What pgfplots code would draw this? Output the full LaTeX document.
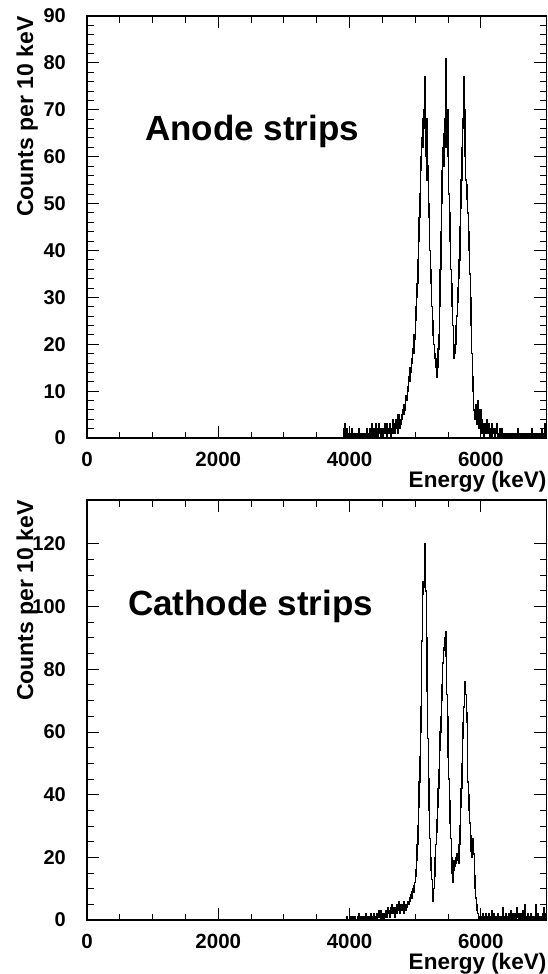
\documentclass[border=0pt]{standalone}
\usepackage{fontspec}
\setmainfont{Liberation Sans}
\usepackage{pgfplots}
\pgfplotsset{compat=1.18}
\begin{document}
\begin{tikzpicture}[x=1pt,y=1pt]
\useasboundingbox (0,0) rectangle (548,-974);
\pgfplotsset{
  every axis/.append style={
    scale only axis, width=459.5pt,
    xmin=0, xmax=7000, ymin=0,
    xtick={0,2000,4000,6000}, minor x tick num=3,
    tick pos=both, tick align=inside,
    major tick length=12pt, minor tick length=6.5pt,
    axis line style={line width=1.8pt},
    every tick/.style={black, line width=0.9pt},
    /pgf/number format/assume math mode=true,
    /pgf/number format/1000 sep={},
    tick label style={inner sep=0pt},
    xticklabel style={yshift=-14pt, font=\bfseries\fontsize{20.5}{20.5}\selectfont},
    yticklabel style={xshift=-21pt, font=\bfseries\fontsize{20}{20}\selectfont},
    xlabel={Energy (keV)},
    ylabel={Counts per 10 keV},
    xlabel style={at={(axis description cs:1,0)}, anchor=north east, yshift=-33pt, inner sep=0pt, font=\bfseries\fontsize{22.5}{22.5}\selectfont},
    ylabel style={at={(axis description cs:-0.1175,1)}, anchor=base east, inner sep=0pt, font=\bfseries\fontsize{23}{23}\selectfont},
  }
}
\begin{axis}[at={(87pt,-438pt)}, anchor=south west, height=422pt,
  ymax=90, ytick={0,10,...,90}, minor y tick num=4]
\addplot[const plot, black, line width=1.4pt] coordinates {
(0,0)
(3900,0)(3910,2)(3920,0)(3930,3)(3940,1)(3950,0)(3960,2)(3970,0)(3980,1)(3990,0)
(4000,1)(4010,0)(4020,0)(4030,2)(4040,1)(4050,0)(4060,1)(4070,0)(4080,0)(4090,1)
(4100,0)(4110,1)(4120,1)(4130,0)(4140,2)(4150,0)(4160,1)(4170,1)(4180,0)(4190,0)
(4200,1)(4210,0)(4220,1)(4230,0)(4240,1)(4250,0)(4260,2)(4270,1)(4280,0)(4290,1)
(4300,0)(4310,2)(4320,1)(4330,0)(4340,3)(4350,1)(4360,0)(4370,2)(4380,1)(4390,0)
(4400,3)(4410,1)(4420,2)(4430,0)(4440,1)(4450,3)(4460,1)(4470,0)(4480,2)(4490,1)
(4500,2)(4510,0)(4520,1)(4530,3)(4540,1)(4550,2)(4560,0)(4570,3)(4580,1)(4590,2)
(4600,1)(4610,3)(4620,2)(4630,0)(4640,2)(4650,4)(4660,1)(4670,3)(4680,2)(4690,1)
(4700,4)(4710,2)(4720,3)(4730,1)(4740,5)(4750,3)(4760,2)(4770,4)(4780,3)(4790,5)
(4800,4)(4810,6)(4820,5)(4830,7)(4840,6)(4850,8)(4860,9)(4870,8)(4880,10)(4890,11)
(4900,13)(4910,12)(4920,15)(4930,14)(4940,17)(4950,16)(4960,19)(4970,18)(4980,22)(4990,21)
(5000,25)(5010,28)(5020,30)(5030,33)(5040,38)(5050,42)(5060,47)(5070,52)(5080,57)(5090,60)
(5100,64)(5110,68)(5120,62)(5130,70)(5140,66)(5150,77)(5160,60)(5170,68)(5180,55)(5190,58)
(5200,50)(5210,47)(5220,40)(5230,36)(5240,33)(5250,28)(5260,25)(5270,22)(5280,20)(5290,17)
(5300,18)(5310,15)(5320,13)(5330,17)(5340,15)(5350,19)(5360,22)(5370,28)(5380,36)(5390,44)
(5400,50)(5410,57)(5420,62)(5430,65)(5440,58)(5450,68)(5460,81)(5470,62)(5480,66)(5490,70)
(5500,60)(5510,52)(5520,48)(5530,42)(5540,36)(5550,33)(5560,28)(5570,24)(5580,20)(5590,17)
(5600,18)(5610,20)(5620,24)(5630,26)(5640,29)(5650,32)(5660,34)(5670,38)(5680,45)(5690,49)
(5700,55)(5710,62)(5720,68)(5730,66)(5740,77)(5750,70)(5760,60)(5770,55)(5780,54)(5790,51)
(5800,48)(5810,44)(5820,40)(5830,35)(5840,30)(5850,24)(5860,18)(5870,13)(5880,10)(5890,6)
(5900,6)(5910,4)(5920,7)(5930,3)(5940,5)(5950,8)(5960,2)(5970,4)(5980,3)(5990,6)
(6000,2)(6010,4)(6020,1)(6030,3)(6040,2)(6050,0)(6060,3)(6070,1)(6080,2)(6090,4)
(6100,1)(6110,2)(6120,3)(6130,0)(6140,1)(6150,2)(6160,0)(6170,3)(6180,1)(6190,2)
(6200,1)(6210,0)(6220,2)(6230,1)(6240,3)(6250,0)(6260,1)(6270,1)(6280,0)(6290,2)
(6300,1)(6310,2)(6320,0)(6330,1)(6340,0)(6350,1)(6360,1)(6370,0)(6380,1)(6390,0)
(6400,0)(6410,1)(6420,0)(6430,1)(6440,0)(6450,0)(6460,1)(6470,0)(6480,0)(6490,1)
(6500,0)(6510,1)(6520,1)(6530,0)(6540,1)(6550,0)(6560,2)(6570,0)(6580,1)(6590,0)
(6600,1)(6610,0)(6620,1)(6630,0)(6640,0)(6650,1)(6660,0)(6670,1)(6680,0)(6690,0)
(6700,1)(6710,0)(6720,0)(6730,1)(6740,0)(6750,1)(6760,0)(6770,0)(6780,2)(6790,0)
(6800,1)(6810,0)(6820,1)(6830,0)(6840,1)(6850,0)(6860,0)(6870,1)(6880,0)(6890,1)
(6900,0)(6910,1)(6920,2)(6930,0)(6940,1)(6950,0)(6960,1)(6970,3)(6980,0)(6990,1)
(7000,1)
};
\node[anchor=base west, inner sep=0pt, font=\bfseries\fontsize{35}{35}\selectfont] at (rel axis cs:0.126,0.706) {Anode strips};
\end{axis}
\begin{axis}[at={(87pt,-920pt)}, anchor=south west, height=420pt,
  ymax=134, ytick={0,20,...,120}, minor y tick num=3]
\addplot[const plot, black, line width=1.4pt] coordinates {
(0,0)
(3900,0)(3910,0)(3920,0)(3930,0)(3940,0)(3950,0)(3960,1)(3970,0)(3980,0)(3990,0)
(4000,0)(4010,1)(4020,0)(4030,0)(4040,0)(4050,1)(4060,0)(4070,0)(4080,1)(4090,0)
(4100,0)(4110,0)(4120,1)(4130,0)(4140,2)(4150,1)(4160,0)(4170,0)(4180,1)(4190,0)
(4200,1)(4210,0)(4220,0)(4230,1)(4240,0)(4250,2)(4260,1)(4270,1)(4280,0)(4290,1)
(4300,0)(4310,1)(4320,2)(4330,0)(4340,1)(4350,0)(4360,2)(4370,1)(4380,1)(4390,0)
(4400,1)(4410,2)(4420,0)(4430,1)(4440,3)(4450,1)(4460,2)(4470,0)(4480,3)(4490,1)
(4500,2)(4510,1)(4520,0)(4530,2)(4540,1)(4550,3)(4560,2)(4570,1)(4580,4)(4590,2)
(4600,3)(4610,1)(4620,4)(4630,2)(4640,5)(4650,3)(4660,2)(4670,4)(4680,1)(4690,3)
(4700,4)(4710,2)(4720,5)(4730,3)(4740,4)(4750,6)(4760,3)(4770,2)(4780,5)(4790,4)
(4800,3)(4810,5)(4820,2)(4830,6)(4840,4)(4850,3)(4860,5)(4870,4)(4880,6)(4890,5)
(4900,5)(4910,7)(4920,6)(4930,8)(4940,7)(4950,9)(4960,10)(4970,9)(4980,11)(4990,12)
(5000,14)(5010,16)(5020,19)(5030,24)(5040,30)(5050,36)(5060,44)(5070,52)(5080,60)(5090,68)
(5100,89)(5110,104)(5120,108)(5130,106)(5140,110)(5150,120)(5160,105)(5170,90)(5180,73)(5190,58)
(5200,45)(5210,35)(5220,26)(5230,20)(5240,16)(5250,13)(5260,9)(5270,6)(5280,10)(5290,14)
(5300,20)(5310,24)(5320,28)(5330,32)(5340,36)(5350,42)(5360,48)(5370,54)(5380,60)(5390,65)
(5400,70)(5410,75)(5420,82)(5430,87)(5440,86)(5450,90)(5460,92)(5470,84)(5480,72)(5490,65)
(5500,52)(5510,45)(5520,38)(5530,31)(5540,26)(5550,20)(5560,15)(5570,12)(5580,16)(5590,19)
(5600,17)(5610,20)(5620,18)(5630,21)(5640,19)(5650,20)(5660,18)(5670,24)(5680,30)(5690,36)
(5700,42)(5710,50)(5720,58)(5730,63)(5740,68)(5750,72)(5760,76)(5770,72)(5780,66)(5790,63)
(5800,44)(5810,40)(5820,35)(5830,31)(5840,27)(5850,22)(5860,20)(5870,24)(5880,26)(5890,21)
(5900,14)(5910,10)(5920,7)(5930,5)(5940,3)(5950,2)(5960,1)(5970,0)(5980,1)(5990,0)
(6000,0)(6010,1)(6020,0)(6030,2)(6040,0)(6050,1)(6060,1)(6070,0)(6080,2)(6090,1)
(6100,1)(6110,0)(6120,2)(6130,1)(6140,0)(6150,1)(6160,0)(6170,3)(6180,1)(6190,0)
(6200,2)(6210,0)(6220,1)(6230,0)(6240,1)(6250,2)(6260,0)(6270,1)(6280,0)(6290,1)
(6300,0)(6310,1)(6320,0)(6330,4)(6340,1)(6350,0)(6360,1)(6370,0)(6380,2)(6390,0)
(6400,1)(6410,0)(6420,2)(6430,1)(6440,0)(6450,1)(6460,3)(6470,0)(6480,1)(6490,2)
(6500,0)(6510,1)(6520,2)(6530,0)(6540,1)(6550,4)(6560,1)(6570,0)(6580,2)(6590,1)
(6600,0)(6610,2)(6620,1)(6630,0)(6640,3)(6650,1)(6660,0)(6670,5)(6680,1)(6690,0)
(6700,1)(6710,0)(6720,2)(6730,1)(6740,0)(6750,1)(6760,2)(6770,0)(6780,1)(6790,0)
(6800,0)(6810,1)(6820,0)(6830,5)(6840,1)(6850,0)(6860,2)(6870,0)(6880,1)(6890,0)
(6900,1)(6910,0)(6920,1)(6930,0)(6940,2)(6950,0)(6960,4)(6970,1)(6980,0)(6990,2)
(7000,2)
};
\node[anchor=base west, inner sep=0pt, font=\bfseries\fontsize{35}{35}\selectfont] at (rel axis cs:0.089,0.726) {Cathode strips};
\end{axis}
\end{tikzpicture}
\end{document}
